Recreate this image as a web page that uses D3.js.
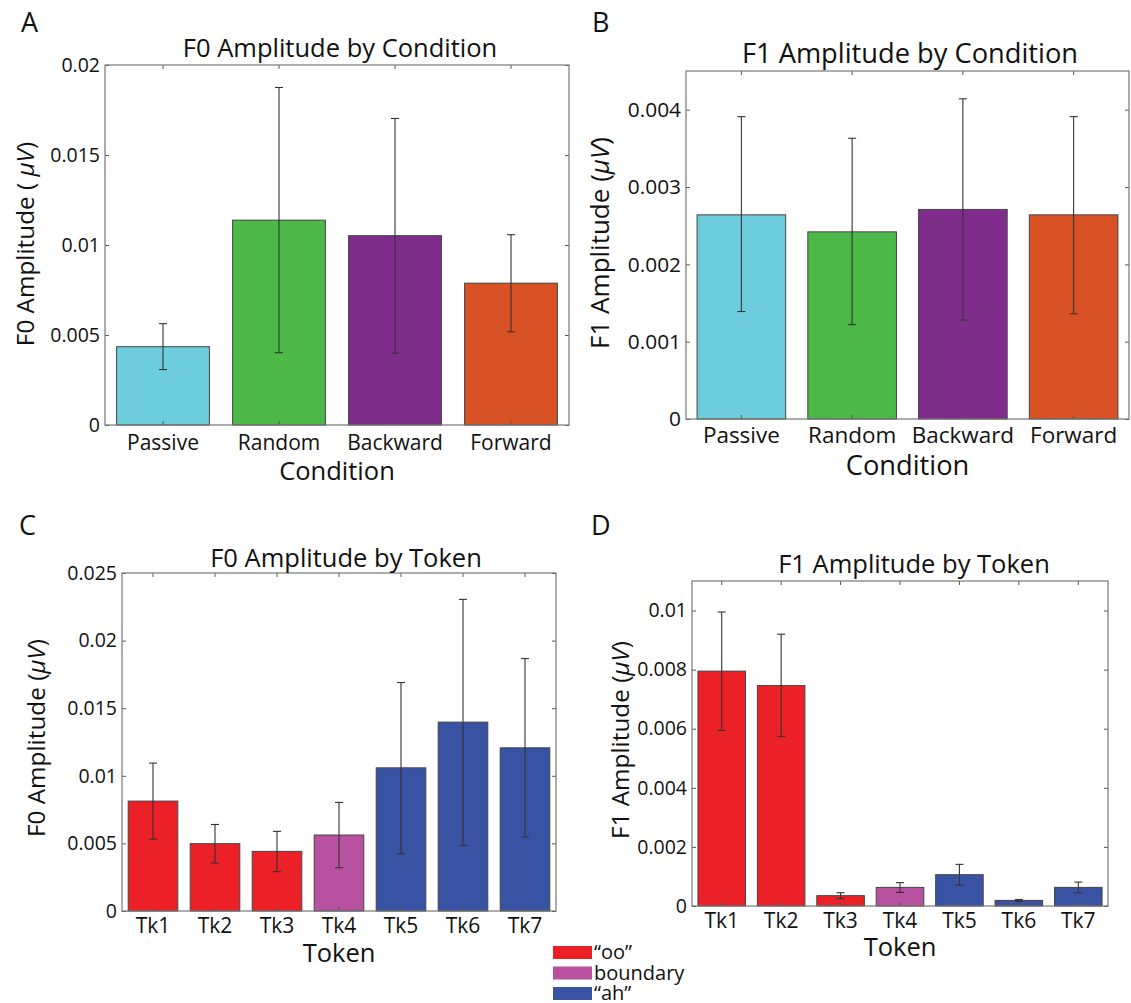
<!DOCTYPE html>
<html>
<head>
<meta charset="utf-8">
<script src="https://cdnjs.cloudflare.com/ajax/libs/d3/7.8.5/d3.min.js"></script>
<style>
  body { margin: 0; background: #fff; }
  svg { display: block; }
</style>
</head>
<body>
<div id="svg-container"></div>
<script>
// condition panels (A, B)
var conditions = ["Passive", "Random", "Backward", "Forward"];
var conditionColors = ["#6ecddd", "#4bb848", "#7e2d8b", "#d85226"];

var f0Cond   = [0.00435, 0.01138, 0.01052, 0.00788];
var f0CondLo = [0.00308, 0.00402, 0.00399, 0.00518];
var f0CondHi = [0.00563, 0.01875, 0.01703, 0.01057];

var f1Cond   = [0.00264, 0.00242, 0.00271, 0.00264];
var f1CondLo = [0.00139, 0.00122, 0.00128, 0.00136];
var f1CondHi = [0.00391, 0.00363, 0.00414, 0.00391];

// token panels (C, D)
var tokens = ["Tk1", "Tk2", "Tk3", "Tk4", "Tk5", "Tk6", "Tk7"];
var tokenGroup = ["oo", "oo", "oo", "boundary", "ah", "ah", "ah"];
var groups = ["oo", "boundary", "ah"];
var groupLabels = ["\u201coo\u201d", "boundary", "\u201cah\u201d"];
var groupColors = ["#ec2127", "#b8519f", "#3853a4"];

var f0Tok   = [0.00813, 0.00498, 0.00441, 0.00562, 0.01059, 0.01397, 0.01207];
var f0TokLo = [0.00532, 0.00355, 0.00291, 0.00320, 0.00424, 0.00485, 0.00547];
var f0TokHi = [0.01094, 0.00640, 0.00589, 0.00803, 0.01690, 0.02305, 0.01867];

var f1Tok   = [0.00795, 0.00746, 0.00035, 0.00063, 0.00106, 0.00019, 0.00063];
var f1TokLo = [0.00594, 0.00574, 0.00025, 0.00046, 0.00071, 0.00016, 0.00045];
var f1TokHi = [0.00995, 0.00920, 0.00045, 0.00079, 0.00141, 0.00022, 0.00081];

// y ticks
var ticksA = [0, 0.005, 0.01, 0.015, 0.02];
var labelsA = ["0", "0.005", "0.01", "0.015", "0.02"];
var ticksB = [0, 0.001, 0.002, 0.003, 0.004];
var labelsB = ["0", "0.001", "0.002", "0.003", "0.004"];
var ticksC = [0, 0.005, 0.01, 0.015, 0.02, 0.025];
var labelsC = ["0", "0.005", "0.01", "0.015", "0.02", "0.025"];
var ticksD = [0, 0.002, 0.004, 0.006, 0.008, 0.01];
var labelsD = ["0", "0.002", "0.004", "0.006", "0.008", "0.01"];

var width = 1131, height = 1003;
var font = "'Open Sans', 'Noto Sans', sans-serif";

var svg = d3.select("#svg-container").append("svg")
    .attr("width", width)
    .attr("height", height)
    .attr("font-family", font);

var groupColor = d3.scaleOrdinal().domain(groups).range(groupColors);

function drawBarChart(p) {
  var s = p.scale || 1;

  var x = d3.scaleBand()
      .domain(p.cats)
      .range([p.left, p.right])
      .paddingInner(0.2)
      .paddingOuter(0.1);

  var y = d3.scaleLinear()
      .domain([0, p.ymax])
      .range([p.bottom, p.top]);

  var g = svg.append("g");

  var rows = p.cats.map(function(c, i) {
    return {cat: c, v: p.values[i], lo: p.lo[i], hi: p.hi[i], color: p.colors[i]};
  });

  g.selectAll(".bar")
    .data(rows)
    .enter().append("rect")
      .attr("class", "bar")
      .attr("x", function(d) { return x(d.cat); })
      .attr("width", x.bandwidth())
      .attr("y", function(d) { return y(d.v); })
      .attr("height", function(d) { return y(0) - y(d.v); })
      .style("fill", function(d) { return d.color; })
      .style("stroke", "#444")
      .style("stroke-width", 1);

  var err = g.selectAll(".err")
    .data(rows)
    .enter().append("g")
      .attr("class", "err")
      .attr("transform", function(d) { return "translate(" + (x(d.cat) + x.bandwidth() / 2) + ",0)"; })
      .style("stroke", "#333")
      .style("stroke-width", 1.1);

  err.append("line")
      .attr("y1", function(d) { return y(d.lo); })
      .attr("y2", function(d) { return y(d.hi); });
  err.append("line")
      .attr("x1", -4).attr("x2", 4)
      .attr("y1", function(d) { return y(d.hi); })
      .attr("y2", function(d) { return y(d.hi); });
  err.append("line")
      .attr("x1", -4).attr("x2", 4)
      .attr("y1", function(d) { return y(d.lo); })
      .attr("y2", function(d) { return y(d.lo); });

  // axes, matlab style: ticks inside on all four sides
  var yLeft = g.append("g")
      .attr("transform", "translate(" + p.left + ",0)")
      .call(d3.axisLeft(y).tickValues(p.ticks)
        .tickFormat(function(d, i) { return p.tickLabels[i]; })
        .tickSize(-4).tickPadding(5));
  var yRight = g.append("g")
      .attr("transform", "translate(" + p.right + ",0)")
      .call(d3.axisRight(y).tickValues(p.ticks).tickFormat("").tickSize(-4));
  var xBottom = g.append("g")
      .attr("transform", "translate(0," + p.bottom + ")")
      .call(d3.axisBottom(x).tickSize(-4).tickPadding(p.xPad));
  var xTop = g.append("g")
      .attr("transform", "translate(0," + p.top + ")")
      .call(d3.axisTop(x).tickFormat("").tickSize(-4));

  [yLeft, yRight, xBottom, xTop].forEach(function(a) {
    a.select(".domain").remove();
    a.selectAll(".tick line").style("stroke", "#555").style("stroke-width", 1);
    a.selectAll("text")
      .attr("font-family", font)
      .style("fill", "#111");
  });
  yLeft.selectAll("text").attr("font-size", 19.5 * s);
  xBottom.selectAll("text").attr("font-size", 21 * s);

  g.append("rect")
      .attr("x", p.left)
      .attr("y", p.top)
      .attr("width", p.right - p.left)
      .attr("height", p.bottom - p.top)
      .style("fill", "none")
      .style("stroke", "#777")
      .style("stroke-width", 1.2);

  // title
  g.append("text")
      .attr("x", p.titleX)
      .attr("y", p.titleY)
      .attr("text-anchor", "middle")
      .attr("font-size", 25.5 * s)
      .style("fill", "#111")
      .text(p.title);

  // x label
  g.append("text")
      .attr("x", (p.left + p.right) / 2)
      .attr("y", p.xLabelY)
      .attr("text-anchor", "middle")
      .attr("font-size", 25.5 * s)
      .style("fill", "#111")
      .text(p.xLabel);

  // y label
  var yl = g.append("text")
      .attr("transform", "translate(" + p.yLabelX + "," + p.yLabelY + ") rotate(-90)")
      .attr("text-anchor", "middle")
      .attr("font-size", 24.3 * s)
      .style("fill", "#111");
  yl.append("tspan").text(p.yLabel);
  yl.append("tspan").style("font-style", "italic").text("\u03bcV");
  yl.append("tspan").text(")");

  // panel letter
  svg.append("text")
      .attr("x", p.letterX)
      .attr("y", p.letterY)
      .attr("font-size", 27)
      .style("fill", "#111")
      .text(p.letter);
}

drawBarChart({
  letter: "A", letterX: 21, letterY: 32,
  cats: conditions, values: f0Cond, lo: f0CondLo, hi: f0CondHi, colors: conditionColors,
  left: 105, right: 569, top: 65, bottom: 425, ymax: 0.02,
  ticks: ticksA, tickLabels: labelsA, xPad: 10,
  title: "F0 Amplitude by Condition", titleX: 340, titleY: 57,
  xLabel: "Condition", xLabelY: 480,
  yLabel: "F0 Amplitude ( ", yLabelX: 34, yLabelY: 244
});

drawBarChart({
  letter: "B", letterX: 592, letterY: 32, scale: 1.07,
  cats: conditions, values: f1Cond, lo: f1CondLo, hi: f1CondHi, colors: conditionColors,
  left: 686, right: 1129, top: 71, bottom: 419, ymax: 0.0045,
  ticks: ticksB, tickLabels: labelsB, xPad: 8,
  title: "F1 Amplitude by Condition", titleX: 910, titleY: 63,
  xLabel: "Condition", xLabelY: 475,
  yLabel: "F1 Amplitude (", yLabelX: 609, yLabelY: 243
});

drawBarChart({
  letter: "C", letterX: 19, letterY: 535,
  cats: tokens, values: f0Tok, lo: f0TokLo, hi: f0TokHi,
  colors: tokenGroup.map(function(t) { return groupColor(t); }),
  left: 122, right: 556, top: 573, bottom: 911, ymax: 0.025,
  ticks: ticksC, tickLabels: labelsC, xPad: 7,
  title: "F0 Amplitude by Token", titleX: 346, titleY: 567,
  xLabel: "Token", xLabelY: 962,
  yLabel: "F0 Amplitude (", yLabelX: 45, yLabelY: 738
});

drawBarChart({
  letter: "D", letterX: 591, letterY: 535,
  cats: tokens, values: f1Tok, lo: f1TokLo, hi: f1TokHi,
  colors: tokenGroup.map(function(t) { return groupColor(t); }),
  left: 692, right: 1108, top: 581, bottom: 906, ymax: 0.011,
  ticks: ticksD, tickLabels: labelsD, xPad: 7,
  title: "F1 Amplitude by Token", titleX: 914, titleY: 573,
  xLabel: "Token", xLabelY: 956,
  yLabel: "F1 Amplitude (", yLabelX: 629, yLabelY: 740
});

// legend for token groups
var legend = svg.append("g")
    .attr("transform", "translate(553,946)");

var item = legend.selectAll(".item")
  .data(groups)
  .enter().append("g")
    .attr("class", "item")
    .attr("transform", function(d, i) { return "translate(0," + (i * 20.5) + ")"; });

item.append("rect")
    .attr("width", 39)
    .attr("height", 13)
    .style("fill", function(d) { return groupColor(d); });

item.append("text")
    .attr("x", 41)
    .attr("y", 13)
    .attr("font-size", 20)
    .style("fill", "#111")
    .text(function(d, i) { return groupLabels[i]; });
</script>
</body>
</html>
